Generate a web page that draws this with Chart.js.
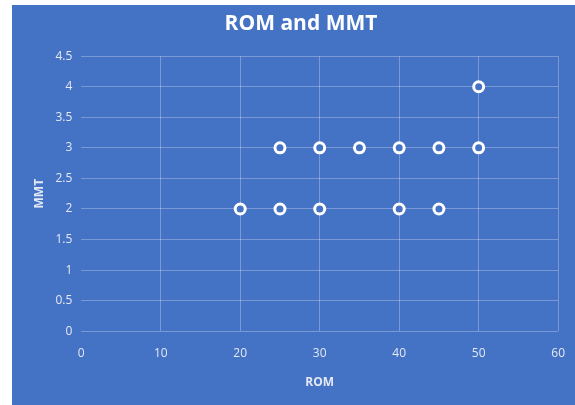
<!DOCTYPE html>
<html>
<head>
<meta charset="utf-8">
<script src="https://cdn.jsdelivr.net/npm/chart.js@4.4.0/dist/chart.umd.min.js"></script>
<style>
html, body { margin: 0; padding: 0; background: #ffffff; overflow: hidden; }
#wrap { position: absolute; left: 12px; top: 5px; width: 563px; height: 400px; background: #4472c4; overflow: hidden; }
</style>
</head>
<body>
<div id="wrap"><canvas id="chart" width="568" height="400"></canvas></div>
<script>
// ROM vs MMT data
const romValues = [20, 25, 30, 40, 45, 25, 30, 35, 40, 45, 50, 50];
const mmtValues = [2, 2, 2, 2, 2, 3, 3, 3, 3, 3, 3, 4];
const xTicks = [0, 10, 20, 30, 40, 50, 60];
const yTicks = [0, 0.5, 1, 1.5, 2, 2.5, 3, 3.5, 4, 4.5];

const points = romValues.map((v, i) => ({ x: v, y: mmtValues[i] }));
const gridCol = 'rgba(255,255,255,0.28)';
const tickCol = '#e4e9f4';
const font = 'Open Sans';

const ctx = document.getElementById('chart').getContext('2d');
new Chart(ctx, {
type: 'scatter',
data: {
datasets: [{
data: points,
pointStyle: 'circle',
pointRadius: 5,
pointBorderWidth: 3,
pointBorderColor: '#ffffff',
pointBackgroundColor: '#4472c4',
pointHoverRadius: 5
}]
},
options: {
responsive: false,
animation: false,
layout: { padding: { left: 16, right: 6, top: 4, bottom: 11 } },
plugins: {
legend: { display: false },
tooltip: { enabled: false },
title: {
display: true,
text: 'ROM and MMT',
color: '#ffffff',
font: { family: font, size: 21, weight: 'bold' },
padding: { top: 2, bottom: 20 }
}
},
scales: {
x: {
type: 'linear',
min: 0,
max: 60,
afterBuildTicks: function (axis) { axis.ticks = xTicks.map(v => ({ value: v })); },
grid: {
color: c => (c.tick && c.tick.value === 0 ? 'rgba(0,0,0,0)' : gridCol),
drawTicks: false
},
border: { display: false },
ticks: { color: tickCol, font: { family: font, size: 12 }, padding: 15, callback: v => String(v) },
title: {
display: true,
text: 'ROM',
color: tickCol,
font: { family: font, size: 12, weight: 'bold' },
padding: { top: 0 }
}
},
y: {
type: 'linear',
min: 0,
max: 4.5,
afterBuildTicks: function (axis) { axis.ticks = yTicks.map(v => ({ value: v })); },
grid: { color: gridCol, drawTicks: false },
border: { display: false },
ticks: { color: tickCol, font: { family: font, size: 12 }, padding: 9, callback: v => String(v) },
title: {
display: true,
text: 'MMT',
color: tickCol,
font: { family: font, size: 12, weight: 'bold' },
padding: { top: 4, bottom: 0 }
}
}
}
}
});
</script>
</body>
</html>
